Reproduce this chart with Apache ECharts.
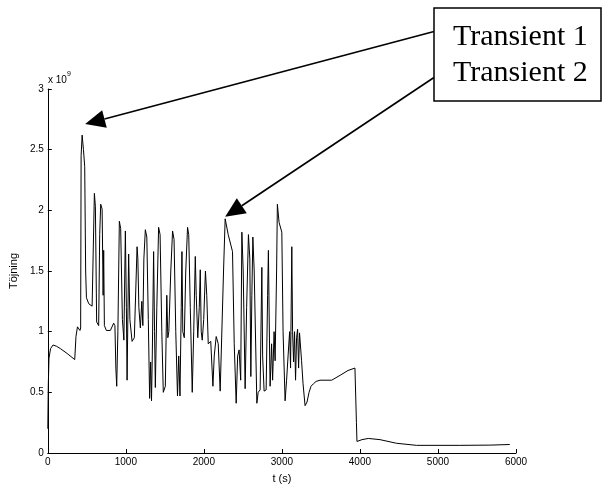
<!DOCTYPE html>
<html>
<head>
<meta charset="utf-8">
<script src="https://cdn.jsdelivr.net/npm/echarts@6/dist/echarts.min.js"></script>
<style>
  html, body { margin: 0; padding: 0; background: #ffffff; }
  #chart { width: 610px; height: 489px; }
</style>
</head>
<body>
<div id="chart"></div>
<script>
// Time axis, seconds
const timeSec = [
  0, 6, 15, 35, 67, 111, 162, 248, 345, 361, 380, 399, 412, 421, 427, 440, 457, 473, 485, 495,
  525, 568, 581, 597, 610, 626, 652, 665, 678, 696, 709, 716, 725, 751, 802, 844, 860, 872, 883, 898,
  917, 934, 956, 975, 994, 1007, 1016, 1036, 1052, 1080, 1109, 1144, 1154, 1167, 1186, 1205, 1218, 1231, 1250, 1269,
  1288, 1305, 1318, 1329, 1339, 1356, 1368, 1378, 1397, 1420, 1439, 1461, 1480, 1506, 1525, 1538, 1551, 1576, 1599, 1618,
  1640, 1662, 1678, 1694, 1710, 1719, 1730, 1749, 1768, 1791, 1806, 1826, 1851, 1870, 1890, 1902, 1922, 1941, 1954, 1966,
  1979, 1998, 2020, 2037, 2056, 2088, 2116, 2133, 2158, 2184, 2209, 2228, 2252, 2273, 2312, 2367, 2389, 2414, 2433, 2452,
  2472, 2487, 2504, 2529, 2548, 2571, 2589, 2602, 2615, 2628, 2645, 2679, 2696, 2721, 2743, 2753, 2772, 2798, 2817, 2827,
  2843, 2849, 2868, 2881, 2900, 2913, 2932, 2942, 2964, 2999, 3015, 3041, 3060, 3079, 3099, 3111, 3127, 3137, 3150, 3162,
  3175, 3188, 3201, 3214, 3226, 3239, 3252, 3271, 3297, 3322, 3348, 3373, 3403, 3438, 3489, 3638, 3745, 3847, 3936, 3955,
  3962, 4026, 4107, 4257, 4470, 4726, 5280, 5664, 5920
];

// Strain, in units of 1e9
const strain = [
  0.20, 0.55, 0.78, 0.86, 0.89, 0.88, 0.86, 0.82, 0.77, 0.96, 1.04, 1.03, 1.01, 1.03, 2.45, 2.62, 2.50, 2.36, 1.50, 1.28,
  1.23, 1.21, 1.22, 2.14, 2.03, 1.08, 1.05, 1.80, 2.05, 2.01, 1.30, 1.67, 1.05, 1.01, 1.01, 1.07, 1.05, 0.70, 0.55, 1.00,
  1.91, 1.85, 1.10, 0.93, 1.83, 1.20, 0.60, 1.64, 1.10, 0.92, 0.95, 1.70, 1.60, 1.20, 1.03, 1.25, 1.05, 1.60, 1.84, 1.78,
  1.10, 0.45, 0.75, 0.43, 0.80, 1.66, 1.00, 0.54, 1.20, 1.86, 1.80, 1.00, 0.50, 0.55, 1.30, 0.95, 1.00, 1.50, 1.83, 1.76,
  1.00, 0.47, 0.80, 0.47, 1.20, 1.66, 1.00, 0.95, 1.50, 1.86, 1.80, 1.20, 0.50, 1.00, 1.62, 1.30, 0.95, 1.20, 1.51, 1.00,
  0.93, 1.10, 1.50, 1.30, 0.90, 0.92, 0.55, 0.80, 0.96, 0.90, 0.51, 0.50, 1.50, 1.93, 1.80, 1.66, 0.90, 0.41, 0.80, 0.85,
  0.60, 1.82, 1.50, 0.53, 1.20, 1.80, 1.60, 0.63, 1.30, 1.78, 1.50, 0.41, 0.50, 0.52, 1.53, 0.80, 0.51, 0.52, 1.30, 1.67,
  0.80, 0.55, 0.90, 0.60, 1.00, 0.76, 1.50, 2.05, 1.90, 1.82, 1.00, 0.43, 0.60, 0.80, 1.00, 0.70, 1.70, 1.00, 0.75, 1.00,
  0.60, 0.95, 1.02, 0.70, 0.99, 1.00, 0.76, 0.57, 0.39, 0.42, 0.50, 0.55, 0.57, 0.59, 0.60, 0.60, 0.64, 0.68, 0.70, 0.25,
  0.095, 0.11, 0.12, 0.11, 0.08, 0.063, 0.063, 0.065, 0.07
];

// Axis ranges
const xMin = 0, xMax = 6000, xStep = 1000;
const yMin = 0, yMax = 3, yStep = 0.5;

// Annotated peaks: [time, strain]
const transient1 = [440, 2.62];
const transient2 = [2273, 1.93];
const boxLines = ['Transient 1', 'Transient 2'];

const series = timeSec.map((t, i) => [t, strain[i]]);

const chart = echarts.init(document.getElementById('chart'), null, { renderer: 'canvas' });

const sans = 'Liberation Sans, Arial, sans-serif';
const tickFont = { fontFamily: sans, fontSize: 10, color: '#000' };

chart.setOption({
  animation: false,
  backgroundColor: '#ffffff',
  grid: { left: 47, top: 89, width: 469, height: 369, containLabel: false },
  xAxis: {
    type: 'value', min: xMin, max: xMax, interval: xStep,
    name: 't (s)', nameLocation: 'middle', nameGap: 20,
    nameTextStyle: { fontFamily: sans, fontSize: 11, color: '#000' },
    axisLine: { show: true, onZero: false, lineStyle: { color: '#000', width: 1 } },
    axisTick: { show: true, inside: true, length: 4, lineStyle: { color: '#000' } },
    axisLabel: Object.assign({ margin: 4, formatter: v => String(v) }, tickFont),
    splitLine: { show: false }
  },
  yAxis: {
    type: 'value', min: yMin, max: yMax, interval: yStep,
    name: 'Töjning', nameLocation: 'middle', nameGap: 20,
    nameTextStyle: { fontFamily: sans, fontSize: 11, color: '#000' },
    axisLine: { show: true, onZero: false, lineStyle: { color: '#000', width: 1 } },
    axisTick: { show: true, inside: true, length: 4, lineStyle: { color: '#000' } },
    axisLabel: Object.assign({ margin: 4, formatter: v => String(v) }, tickFont),
    splitLine: { show: false }
  },
  series: [{
    type: 'line',
    data: series,
    showSymbol: false,
    symbol: 'none',
    lineStyle: { color: '#000', width: 1 },
    silent: true
  }]
});

// Arrow from a box edge to a point just above a peak
function arrow(from, to) {
  const dx = from[0] - to[0], dy = from[1] - to[1];
  const len = Math.hypot(dx, dy);
  const ux = dx / len, uy = dy / len;
  const headLen = 20, headHalf = 9;
  const bx = to[0] + ux * headLen, by = to[1] + uy * headLen;
  const px = -uy, py = ux;
  return [
    { type: 'line', shape: { x1: from[0], y1: from[1], x2: bx, y2: by },
      style: { stroke: '#000', lineWidth: 1.6 }, z: 10 },
    { type: 'polygon',
      shape: { points: [to, [bx + px * headHalf, by + py * headHalf], [bx - px * headHalf, by - py * headHalf]] },
      style: { fill: '#000' }, z: 10 }
  ];
}

const p1 = chart.convertToPixel({ gridIndex: 0 }, transient1);
const p2 = chart.convertToPixel({ gridIndex: 0 }, transient2);
const tip1 = [p1[0] + 3, p1[1] - 11];
const tip2 = [p2[0], p2[1] - 2];

const boxLeft = 434, boxTop = 8, boxW = 167, boxH = 93;
const serif = '30px Liberation Serif, Times New Roman, serif';

chart.setOption({
  graphic: [
    // exponent label above the y axis
    { type: 'text', x: 48, y: 80,
      style: { text: 'x 10', font: '10px ' + sans, fill: '#000', verticalAlign: 'middle' } },
    { type: 'text', x: 67, y: 74,
      style: { text: '9', font: '7px ' + sans, fill: '#000', verticalAlign: 'middle' } },
    ...arrow([boxLeft, 31.5], tip1),
    ...arrow([boxLeft, 77.5], tip2),
    { type: 'rect', shape: { x: boxLeft, y: boxTop, width: boxW, height: boxH },
      style: { fill: '#fff', stroke: '#000', lineWidth: 1.5 }, z: 11 },
    { type: 'text', x: 453, y: 37, z: 12,
      style: { text: boxLines[0], font: serif, fill: '#000', verticalAlign: 'middle' } },
    { type: 'text', x: 453, y: 73, z: 12,
      style: { text: boxLines[1], font: serif, fill: '#000', verticalAlign: 'middle' } }
  ]
});
</script>
</body>
</html>
